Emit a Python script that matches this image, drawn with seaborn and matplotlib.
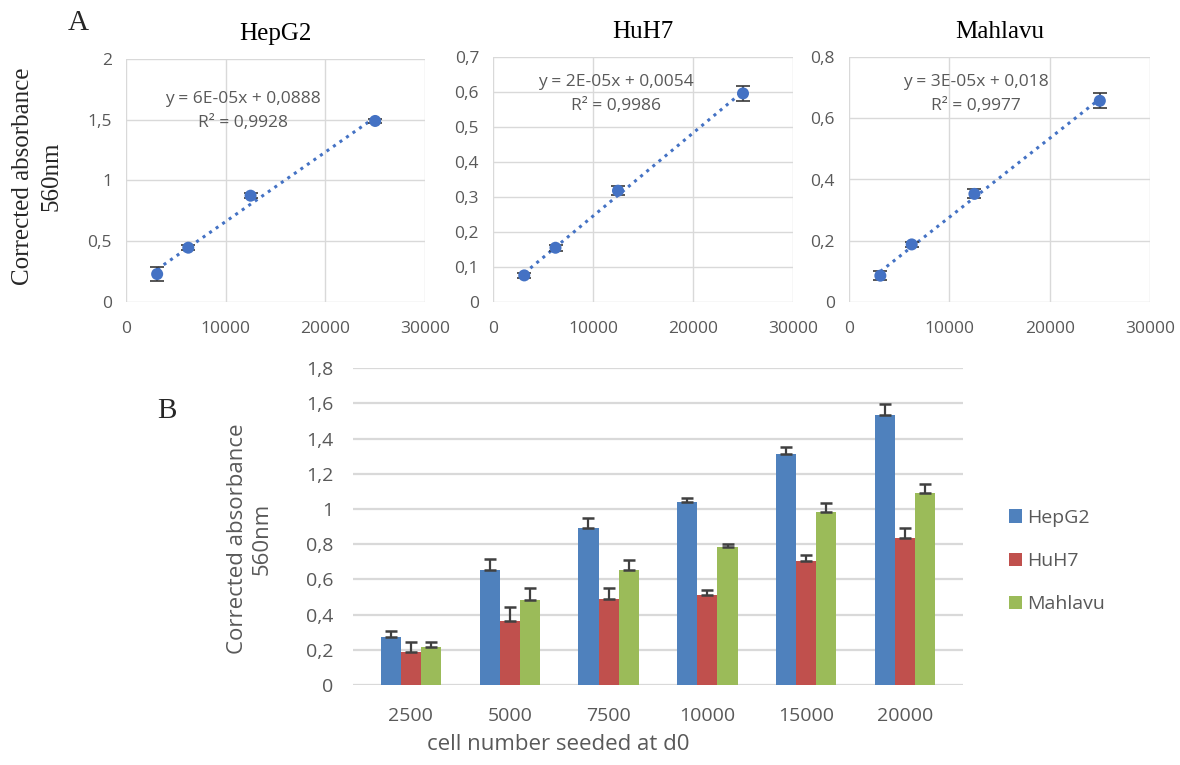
import numpy as np
import pandas as pd
import matplotlib
matplotlib.use('Agg')
import matplotlib.pyplot as plt
import seaborn as sns
from matplotlib.ticker import FuncFormatter, MultipleLocator
from matplotlib.patches import Patch

sns.set_theme(style='white')
plt.rcParams['font.family'] = ['Open Sans', 'DejaVu Sans']

# ---------------- Panel A data ----------------
cells_seeded = [3125, 6250, 12500, 25000]
a_titles = ['HepG2', 'HuH7', 'Mahlavu']
a_values = [
    [0.23, 0.447, 0.875, 1.49],
    [0.076, 0.155, 0.318, 0.596],
    [0.086, 0.188, 0.353, 0.657],
]
a_errors = [
    [0.055, 0.02, 0.02, 0.02],
    [0.008, 0.008, 0.012, 0.021],
    [0.015, 0.008, 0.015, 0.025],
]
a_eq = ['y = 6E-05x + 0,0888', 'y = 2E-05x + 0,0054', 'y = 3E-05x + 0,018']
a_r2 = ['R² = 0,9928', 'R² = 0,9986', 'R² = 0,9977']
a_ymax = [2, 0.7, 0.8]
a_ystep = [0.5, 0.1, 0.2]
a_xticks = [0, 10000, 20000, 30000]

# ---------------- Panel B data ----------------
cell_numbers = ['2500', '5000', '7500', '10000', '15000', '20000']
cell_lines = ['HepG2', 'HuH7', 'Mahlavu']
b_hepg2 = [0.274, 0.653, 0.89, 1.041, 1.3125, 1.534]
b_hepg2_err = [0.033, 0.063, 0.057, 0.021, 0.042, 0.061]
b_huh7 = [0.189, 0.365, 0.489, 0.511, 0.706, 0.833]
b_huh7_err = [0.057, 0.076, 0.06, 0.028, 0.033, 0.061]
b_mahlavu = [0.214, 0.483, 0.653, 0.782, 0.981, 1.089]
b_mahlavu_err = [0.032, 0.066, 0.057, 0.019, 0.051, 0.051]
b_ticks = [0, 0.2, 0.4, 0.6, 0.8, 1, 1.2, 1.4, 1.6, 1.8]

bar_colors = ['#4F81BD', '#C0504D', '#9BBB59']
point_color = '#4472C4'
tick_gray = '#595959'
grid_gray = '#D9D9D9'
serif = ['Liberation Serif', 'DejaVu Serif']

comma = FuncFormatter(lambda v, p: ('{:g}'.format(round(v, 4))).replace('.', ','))

fig = plt.figure(figsize=(11.8, 7.65), dpi=100)

a_pos = [
    [126 / 1180, 1 - 302 / 765, 299 / 1180, 243 / 765],
    [493 / 1180, 1 - 302 / 765, 300 / 1180, 245 / 765],
    [849 / 1180, 1 - 302 / 765, 301 / 1180, 245 / 765],
]
eq_xfrac = [0.39, 0.41, 0.42]
eq_yfrac = [(0.835, 0.737), (0.90, 0.80), (0.90, 0.80)]

for i in range(3):
    ax = fig.add_axes(a_pos[i])
    ax.set_xlim(0, 30000)
    ax.set_ylim(0, a_ymax[i])
    ax.set_xticks(a_xticks)
    ax.yaxis.set_major_locator(MultipleLocator(a_ystep[i]))
    ax.yaxis.set_major_formatter(comma)
    ax.grid(True, color=grid_gray, lw=1.0)
    for s in ax.spines.values():
        s.set_visible(False)
    ax.tick_params(length=0, labelsize=12.5, colors=tick_gray, pad=10)
    ax.tick_params(axis='x', pad=14)
    sns.regplot(x=cells_seeded, y=a_values[i], ax=ax, scatter=False, ci=None,
                truncate=True,
                line_kws=dict(color=point_color, lw=2.2, linestyle=(0, (1, 1.6))))
    ax.errorbar(cells_seeded, a_values[i], yerr=a_errors[i], fmt='none',
                ecolor='#3A3A3A', elinewidth=1.2, capsize=5, capthick=1.2, zorder=3)
    sns.scatterplot(x=cells_seeded, y=a_values[i], ax=ax, color=point_color,
                    s=75, edgecolor='none', zorder=4)
    ax.set_title(a_titles[i], family=serif, fontsize=18, fontweight='normal',
                 pad=14, color='black')
    ax.text(eq_xfrac[i], eq_yfrac[i][0], a_eq[i], transform=ax.transAxes,
            ha='center', va='center', fontsize=12.5, color=tick_gray)
    ax.text(eq_xfrac[i], eq_yfrac[i][1], a_r2[i], transform=ax.transAxes,
            ha='center', va='center', fontsize=12.5, color=tick_gray)
    ax.set_xlabel('')
    ax.set_ylabel('')

fig.text(37.5 / 1180, 1 - 176 / 765, 'Corrected absorbance\n560nm', rotation=90,
         ha='center', va='center', family=serif, fontsize=18, linespacing=1.4)
fig.text(78 / 1180, 1 - 23 / 765, 'A', ha='center', va='center', family=serif, fontsize=21)
fig.text(167 / 1180, 1 - 411 / 765, 'B', ha='center', va='center', family=serif, fontsize=21)

# ---------------- Panel B ----------------
axb = fig.add_axes([353 / 1180, 1 - 685 / 765, 610 / 1180, 316.7 / 765])
df = pd.DataFrame({
    'cells': cell_numbers * 3,
    'line': sum([[c] * len(cell_numbers) for c in cell_lines], []),
    'abs': b_hepg2 + b_huh7 + b_mahlavu,
})
sns.barplot(data=df, x='cells', y='abs', hue='line', order=cell_numbers,
            hue_order=cell_lines, palette=bar_colors, saturation=1, width=0.61,
            errorbar=None, ax=axb, legend=False, linewidth=0, zorder=2)
errs = [b_hepg2_err, b_huh7_err, b_mahlavu_err]
for cont, e in zip(axb.containers, errs):
    xs = [b.get_x() + b.get_width() / 2 for b in cont]
    ys = [b.get_height() for b in cont]
    axb.errorbar(xs, ys, yerr=[np.zeros(len(e)), e], fmt='none', ecolor='#404040',
                 elinewidth=1.6, capsize=4.2, capthick=1.8, zorder=3)
axb.set_ylim(0, 1.8)
axb.set_yticks(b_ticks)
axb.yaxis.set_major_formatter(comma)
axb.grid(True, axis='y', color=grid_gray, lw=1.6, zorder=0)
axb.set_axisbelow(True)
for s in axb.spines.values():
    s.set_visible(False)
axb.tick_params(length=0, labelsize=14, colors=tick_gray)
axb.tick_params(axis='y', pad=14)
axb.tick_params(axis='x', pad=16)
axb.set_xlabel('')
axb.set_ylabel('')

fig.text(250 / 1180, 1 - 539 / 765, 'Corrected absorbance\n560nm', rotation=90,
         ha='center', va='center', fontsize=16, color=tick_gray, linespacing=1.25)
fig.text(558 / 1180, 1 - 745 / 765, 'cell number seeded at d0', ha='center',
         va='center', fontsize=16, color=tick_gray)

handles = [Patch(facecolor=c, edgecolor='none') for c in bar_colors]
fig.legend(handles, cell_lines, loc='center left', bbox_to_anchor=(1001 / 1180, 1 - 561 / 765),
           frameon=False, fontsize=14, labelcolor=tick_gray, handlelength=0.67,
           handleheight=0.67, handletextpad=0.25, labelspacing=1.3, borderaxespad=0)

fig.savefig('out.png', dpi=100)
